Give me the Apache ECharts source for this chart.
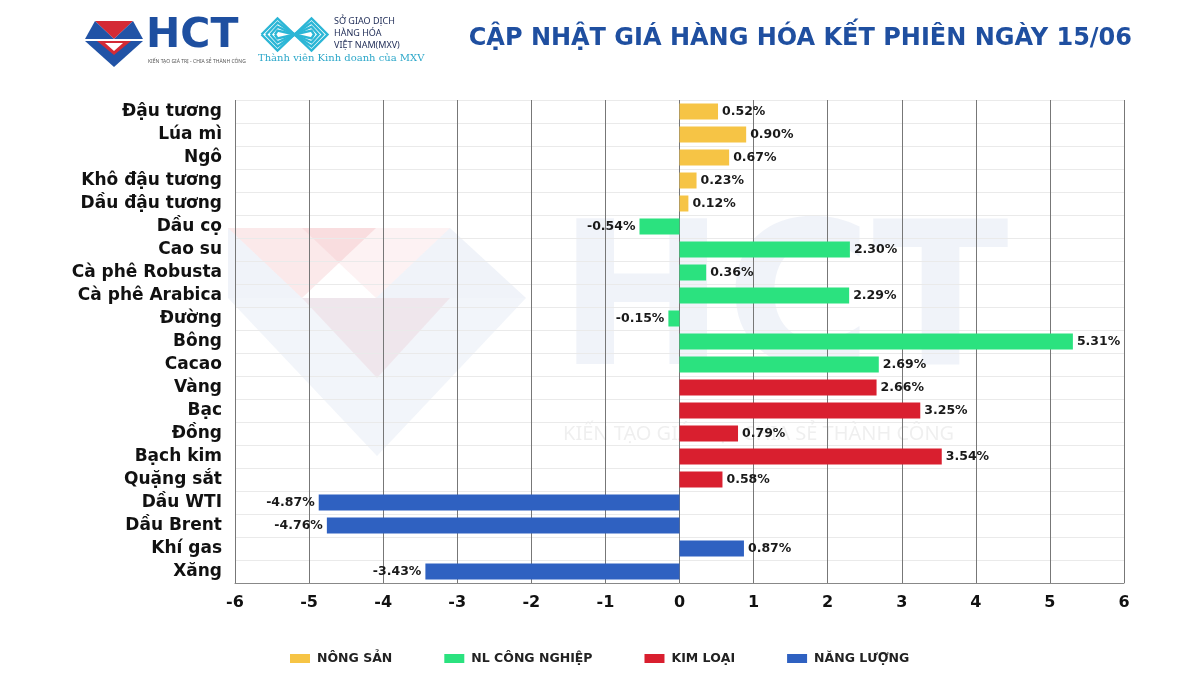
<!DOCTYPE html>
<html><head><meta charset="utf-8">
<script src="https://cdn.jsdelivr.net/npm/echarts@6/dist/echarts.min.js"></script>
<style>html,body{margin:0;padding:0;background:#fff}#c{width:1200px;height:675px}</style>
</head><body><div id="c"></div>
<script>
const categories = ['Đậu tương','Lúa mì','Ngô','Khô đậu tương','Dầu đậu tương','Dầu cọ','Cao su','Cà phê Robusta','Cà phê Arabica','Đường','Bông','Cacao','Vàng','Bạc','Đồng','Bạch kim','Quặng sắt','Dầu WTI','Dầu Brent','Khí gas','Xăng'];
const values = [0.52,0.90,0.67,0.23,0.12,-0.54,2.30,0.36,2.29,-0.15,5.31,2.69,2.66,3.25,0.79,3.54,0.58,-4.87,-4.76,0.87,-3.43];
const groupOf = [0,0,0,0,0,1,1,1,1,1,1,1,2,2,2,2,2,3,3,3,3];
const groupNames = ['NÔNG SẢN','NL CÔNG NGHIỆP','KIM LOẠI','NĂNG LƯỢNG'];
const groupColors = ['#F6C445','#2BE27F','#D91F2F','#2F61C1'];
const xTicks = [-6,-5,-4,-3,-2,-1,0,1,2,3,4,5,6];

const FONT = 'Noto Sans';
const WIDE = 'DejaVu Sans';
const chart = echarts.init(document.getElementById('c'));

const series = groupNames.map((name, g) => ({
  name, type: 'bar', stack: 'all', barWidth: 16,
  itemStyle: { color: groupColors[g] },
  data: values.map((v, i) => groupOf[i] === g ? {
    value: v,
    label: { show: true, position: v >= 0 ? 'right' : 'left', distance: 4,
      formatter: p => p.value.toFixed(2) + '%', color: '#1a1a1a', fontWeight: 'bold', fontSize: 12.5, fontFamily: WIDE }
  } : '-'),
  z: 3
}));

const g = [];
g.push({type:'group', left:228, top:228, silent:true, z:0, children:[
  {type:'polygon', shape:{points:[[0,0],[148,0],[74,70]]}, style:{fill:'rgba(214,40,50,0.10)'}},
  {type:'polygon', shape:{points:[[74,0],[222,0],[148,70]]}, style:{fill:'rgba(214,40,50,0.06)'}},
  {type:'polygon', shape:{points:[[0,0],[74,70],[0,70]]}, style:{fill:'rgba(40,80,170,0.07)'}},
  {type:'polygon', shape:{points:[[222,0],[298,70],[148,70]]}, style:{fill:'rgba(40,80,170,0.07)'}},
  {type:'polygon', shape:{points:[[0,70],[298,70],[149,228]]}, style:{fill:'rgba(40,80,170,0.06)'}},
  {type:'polygon', shape:{points:[[74,70],[222,70],[149,150]]}, style:{fill:'rgba(214,40,50,0.07)'}}
]});
g.push({type:'text', left:558, top:212, silent:true, z:0, style:{text:'HCT', font:'bold 200px '+WIDE, fill:'rgba(40,80,170,0.07)'}});
g.push({type:'text', left:563, top:424, silent:true, z:0, style:{text:'KIẾN TẠO GIÁ TRỊ - CHIA SẺ THÀNH CÔNG', font:'20px '+FONT, fill:'rgba(120,120,120,0.12)'}});
g.push({type:'group', left:85, top:21, children:[
  {type:'polygon', shape:{points:[[10,0],[48,0],[29,18]]}, style:{fill:'#D42A35'}},
  {type:'polygon', shape:{points:[[10,0],[29,18],[0,18]]}, style:{fill:'#2153A6'}},
  {type:'polygon', shape:{points:[[48,0],[58,18],[29,18]]}, style:{fill:'#2153A6'}},
  {type:'polygon', shape:{points:[[0,20],[58,20],[29,46]]}, style:{fill:'#2153A6'}},
  {type:'polygon', shape:{points:[[12,20],[46,20],[29,34]]}, style:{fill:'#D42A35'}},
  {type:'polygon', shape:{points:[[20,22],[38,22],[29,30]]}, style:{fill:'#fff'}}
]});
g.push({type:'text', left:146, top:16, style:{text:'HCT', font:'bold 41px '+WIDE, fill:'#1E4FA0'}});
g.push({type:'text', left:148, top:59, style:{text:'KIẾN TẠO GIÁ TRỊ - CHIA SẺ THÀNH CÔNG', font:'5px '+FONT, fill:'#555'}});
const zig = [];
for (let k = 0; k < 4; k++) {
  const d = k * 4.5;
  zig.push({type:'polyline', shape:{points:[[d,16],[16,d*0.9],[33,16],[50,d*0.9],[66-d,16],[50,32-d*0.9],[33,16],[16,32-d*0.9],[d,16]]},
    style:{stroke:'#2CB6D6', lineWidth:2.4, fill:null}});
}
g.push({type:'group', left:259, top:16, children:zig});
g.push({type:'text', left:334, top:15, style:{text:'SỞ GIAO DỊCH\nHÀNG HÓA\nVIỆT NAM(MXV)', font:'9px '+FONT, lineHeight:12, fill:'#1d2a55'}});
g.push({type:'text', left:258, top:53, style:{text:'Thành viên Kinh doanh của MXV', font:'10px "DejaVu Serif"', fill:'#2CA7C9'}});
g.push({type:'text', right:68, top:27, style:{text:'CẬP NHẬT GIÁ HÀNG HÓA KẾT PHIÊN NGÀY 15/06', font:'bold 24px '+WIDE, fill:'#1F4FA0'}});

chart.setOption({
  animation: false,
  backgroundColor: '#fff',
  textStyle: { fontFamily: FONT },
  grid: { left: 235, right: 76, top: 100, bottom: 92 },
  legend: {
    left: 285, top: 647, itemWidth: 20, itemHeight: 9, itemGap: 52,
    icon: 'rect',
    data: groupNames,
    textStyle: { fontFamily: WIDE, fontWeight: 'bold', fontSize: 12.5, color: '#222', padding: [0,0,0,2] }
  },
  xAxis: {
    type: 'value', min: xTicks[0], max: xTicks[xTicks.length-1], interval: 1,
    axisLine: { show: true, lineStyle: { color: '#888' } },
    axisTick: { show: false },
    axisLabel: { color: '#111', fontWeight: 'bold', fontSize: 16, margin: 12, fontFamily: WIDE },
    splitLine: { show: true, lineStyle: { color: '#777', width: 1 } }
  },
  yAxis: {
    type: 'category', data: categories, inverse: true,
    axisLine: { show: false }, axisTick: { show: false },
    axisLabel: { color: '#111', fontWeight: 'bold', fontSize: 17, margin: 13, fontFamily: WIDE },
    splitLine: { show: true, lineStyle: { color: '#eaeaea' } }
  },
  graphic: g,
  series
});
</script></body></html>
